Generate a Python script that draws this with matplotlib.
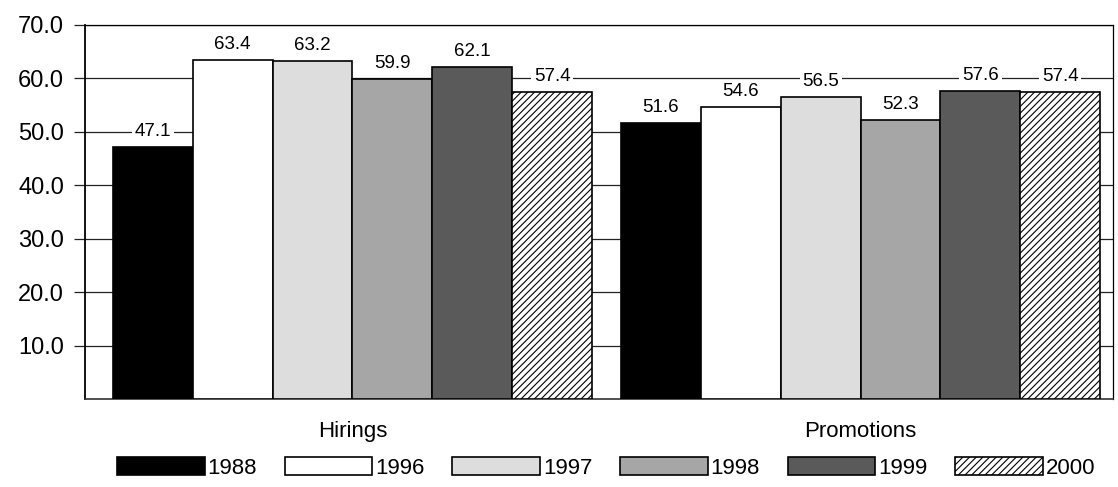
import matplotlib
matplotlib.use('Agg')
import matplotlib.pyplot as plt
import numpy as np

plt.rcParams['font.family'] = ['Liberation Sans', 'DejaVu Sans']
plt.rcParams['hatch.linewidth'] = 0.8

# values per year for each group
categories = ['Hirings', 'Promotions']
years = ['1988', '1996', '1997', '1998', '1999', '2000']
hirings = [47.1, 63.4, 63.2, 59.9, 62.1, 57.4]
promotions = [51.6, 54.6, 56.5, 52.3, 57.6, 57.4]
yticks = [10, 20, 30, 40, 50, 60, 70]

colors = ['#000000', '#ffffff', '#dddddd', '#a6a6a6', '#5a5a5a', '#ffffff']
hatches = [None, None, None, None, None, '/////']

fig = plt.figure(figsize=(11.18, 4.87), dpi=100)
ax = fig.add_axes([0.076, 0.1807, 0.9195, 0.768])

group_gap = 0.364
n = len(years)
group_base = np.array([0, n + group_gap])
width = 1.0

series = np.array([hirings, promotions])
for i, yr in enumerate(years):
    xs = group_base + i
    vals = series[:, i]
    ax.bar(xs, vals, width=width, color=colors[i], edgecolor='black',
           linewidth=1.2, hatch=hatches[i], zorder=3, label=yr)
    for x, v in zip(xs, vals):
        ax.annotate('%.1f' % v, (x, v), xytext=(0, 5), textcoords='offset points',
                    ha='center', va='bottom', fontsize=13.5, zorder=4,
                    bbox=dict(boxstyle='square,pad=0.15', fc='white', ec='none'))

ax.set_ylim(0, 70)
ax.set_xlim(-0.85, group_base[1] + n - 0.5 + 0.16)
ax.set_yticks(yticks)
ax.set_yticklabels(['%.1f' % t for t in yticks], fontsize=17)
ax.tick_params(axis='y', length=8, width=0.9, color='#222222', pad=7)
ax.yaxis.grid(True, color='#222222', linewidth=0.9, zorder=0)
ax.set_axisbelow(True)

ax.set_xticks(group_base + (n - 1) / 2)
ax.set_xticklabels(categories, fontsize=16)
ax.tick_params(axis='x', length=0, pad=16)

ax.spines['left'].set_linewidth(1.3)
ax.spines['bottom'].set_linewidth(1.2)
ax.spines['bottom'].set_color('#333333')
ax.spines['right'].set_linewidth(0.9)
ax.spines['top'].set_linewidth(0.9)

fig.legend(loc='center', bbox_to_anchor=(0.542, 1 - 468 / 487), ncol=6,
           frameon=False, fontsize=16, handlelength=3.95, handleheight=0.86,
           handletextpad=0.12, columnspacing=1.25, borderpad=0)

fig.savefig('out.png', dpi=100)
